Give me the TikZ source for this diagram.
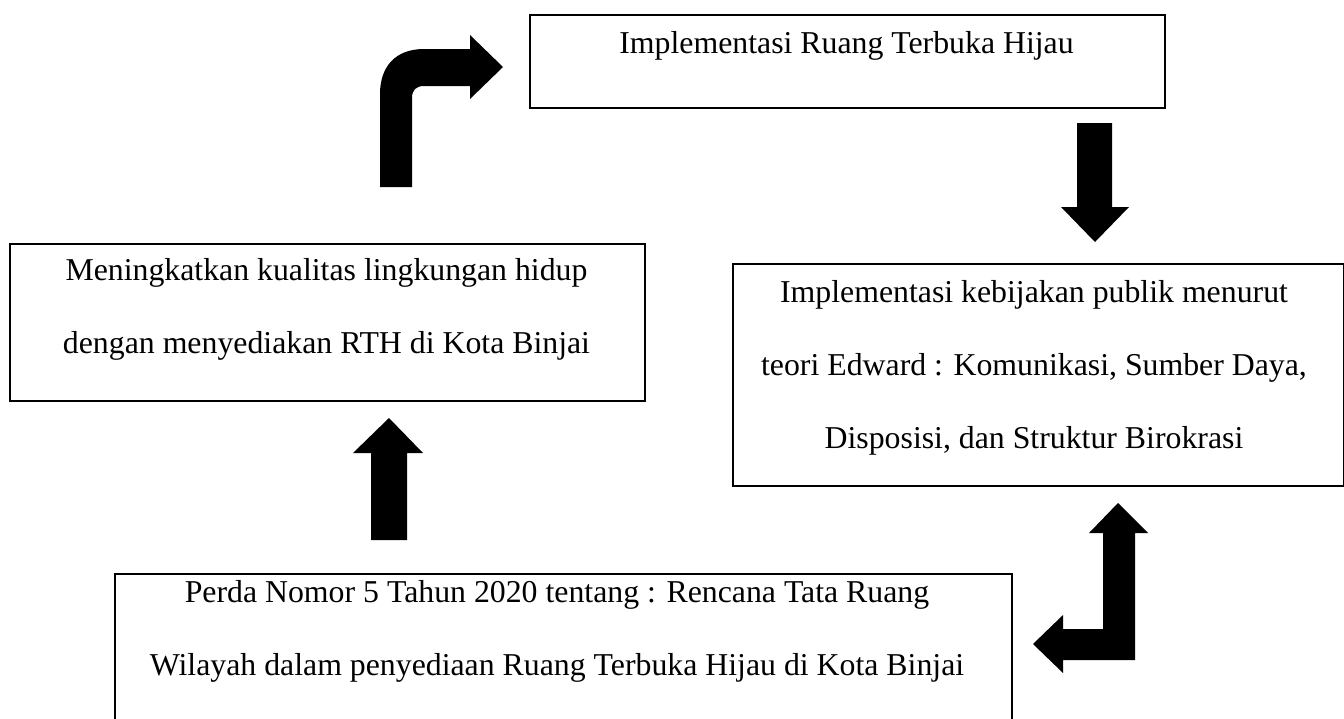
\documentclass[tikz,border=0pt]{standalone}
\usepackage{fontspec}
\setmainfont{Liberation Serif}

\begin{document}
\begin{tikzpicture}[x=1pt,y=-1pt,
    kotak/.style={draw,line width=2.4pt,anchor=north west,inner sep=0pt},
    isi/.style={align=center,inner sep=0pt,font=\fontsize{31.8pt}{73pt}\selectfont},
    panah/.style={fill=black}]
     \useasboundingbox (0,0) rectangle (1344,718);
     \node[kotak,minimum width=635pt,minimum height=93pt] (rth) at (529,14) {};
     \node[kotak,minimum width=635pt,minimum height=157pt] (tujuan) at (9,243) {};
     \node[kotak,minimum width=611pt,minimum height=222pt] (edward) at (732,263) {};
     \node[kotak,minimum width=897pt,minimum height=147pt] (perda) at (114,573) {};
     \node[isi] (rthteks) at (846.5,45.6) {Implementasi Ruang Terbuka Hijau};
     \node[isi] (tujuanteks) at (326.5,309.2) {Meningkatkan kualitas lingkungan hidup\\dengan menyediakan RTH di Kota Binjai};
     \node[isi] (edwardteks) at (1034,367.7) {Implementasi kebijakan publik menurut\\teori Edward : Komunikasi, Sumber Daya,\\Disposisi, dan Struktur Birokrasi};
     \node[isi] (perdateks) at (557,631.7) {Perda Nomor 5 Tahun 2020 tentang : Rencana Tata Ruang\\Wilayah dalam penyediaan Ruang Terbuka Hijau di Kota Binjai};
     \fill[panah] (380,187) -- (380,94) .. controls (380,66) and (396,49) .. (424,49) -- (470,49) -- (470,35) -- (503,67) -- (470,99) -- (470,86) -- (424,86) .. controls (416,86) and (412,90) .. (412,98) -- (412,187) -- cycle;
     \fill[panah] (1077,123) -- (1112,123) -- (1112,207) -- (1129,207) -- (1095,242) -- (1061,207) -- (1077,207) -- cycle;
     \fill[panah] (371,540) -- (371,453) -- (353,453) -- (389,418) -- (423,453) -- (407,453) -- (407,540) -- cycle;
     \fill[panah] (1118,503) -- (1148,533) -- (1135,533) -- (1135,660) -- (1063,660) -- (1063,673) -- (1033,644) -- (1063,615) -- (1063,629) -- (1103,629) -- (1103,533) -- (1089,533) -- cycle;
\end{tikzpicture}
\end{document}
